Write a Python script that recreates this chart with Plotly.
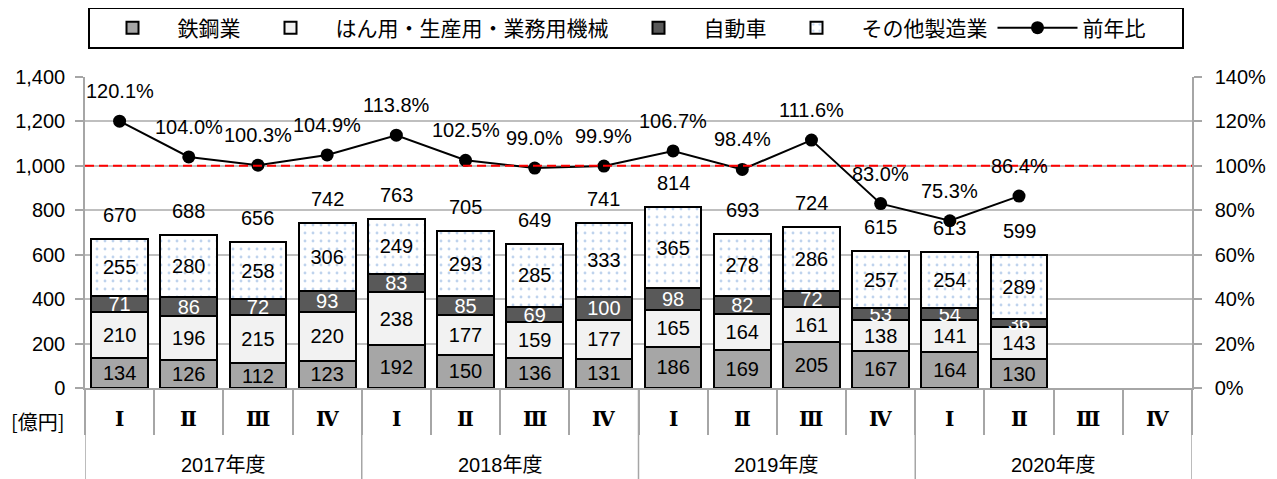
import plotly.graph_objects as go

# ---------------- data ----------------
years = ["2017年度", "2018年度", "2019年度", "2020年度"]
quarters = ["Ⅰ", "Ⅱ", "Ⅲ", "Ⅳ"]
steel = [134, 126, 112, 123, 192, 150, 136, 131, 186, 169, 205, 167, 164, 130]
machinery = [210, 196, 215, 220, 238, 177, 159, 177, 165, 164, 161, 138, 141, 143]
automobile = [71, 86, 72, 93, 83, 85, 69, 100, 98, 82, 72, 53, 54, 36]
other = [255, 280, 258, 306, 249, 293, 285, 333, 365, 278, 286, 257, 254, 289]
totals = [670, 688, 656, 742, 763, 705, 649, 741, 814, 693, 724, 615, 613, 599]
yoy = [120.1, 104.0, 100.3, 104.9, 113.8, 102.5, 99.0, 99.9, 106.7, 98.4, 111.6, 83.0, 75.3, 86.4]
reference_ratio = 1.0  # 100% line
unit_label = "[億円]"

categories = [f"{y} {q}" for y in years for q in quarters]
quarter_labels = [q for _ in years for q in quarters]
x_data = categories[:len(steel)]

NUM_FONT = "Liberation Sans, Arial, Noto Sans CJK JP"
JP_FONT = "Noto Sans CJK JP, Liberation Sans"
FS = 20

# geometry (the page body adds an 8px offset at the top-left)
OFF = 8
W, H = 1277 - OFF, 479 - OFF
ML, MR, MT, MB = 85 - OFF, 85, 77 - OFF, 91
PH = H - MT - MB
PW = W - ML - MR


def px_x(px):
    return (px - OFF - ML) / PW


def px_y(py):
    return 1 + (MT + OFF - py) / PH


fig = go.Figure()

pattern_dots = dict(shape=".", fgcolor="#7FA8DC", bgcolor="white", size=8, solidity=0.1)
series = [
    ("鉄鋼業", steel, "#A6A6A6", "black", None),
    ("はん用・生産用・業務用機械", machinery, "#F2F2F2", "black", None),
    ("自動車", automobile, "#595959", "white", None),
    ("その他製造業", other, "white", "black", pattern_dots),
]
for name, vals, color, tcolor, pat in series:
    marker = dict(color=color, line=dict(color="black", width=2))
    if pat is not None:
        marker["pattern"] = pat
    fig.add_bar(
        x=x_data, y=vals, name=name,
        text=[str(v) for v in vals],
        textposition="inside", insidetextanchor="middle", textangle=0,
        constraintext="none",
        textfont=dict(color=tcolor, size=FS, family=NUM_FONT),
        marker=marker,
        hoverinfo="skip",
    )

fig.add_scatter(
    x=x_data, y=[v / 100 for v in yoy], yaxis="y2", name="前年比",
    mode="lines+markers",
    line=dict(color="black", width=2),
    marker=dict(color="black", size=13),
    hoverinfo="skip",
)

annotations = []
# totals above bars
for c, t in zip(x_data, totals):
    annotations.append(dict(x=c, y=t, xref="x", yref="y", text=f"{t:,}", showarrow=False,
                            yshift=24, font=dict(size=FS, family=NUM_FONT, color="black")))
# yoy labels above markers
for c, v in zip(x_data, yoy):
    annotations.append(dict(x=c, y=v / 100, xref="x", yref="y2", text=f"{v:.1f}%", showarrow=False,
                            yshift=30, font=dict(size=FS, family=NUM_FONT, color="black")))
# quarter labels
for c, q in zip(categories, quarter_labels):
    annotations.append(dict(x=c, y=0, xref="x", yref="paper", text=q, showarrow=False,
                            yshift=-31, yanchor="middle",
                            font=dict(size=FS, family="DejaVu Serif", color="black", weight="bold")))
# year labels
for i, yname in enumerate(years):
    annotations.append(dict(x=i * len(quarters) + (len(quarters) - 1) / 2, y=0, xref="x", yref="paper",
                            text=yname, showarrow=False, yshift=-77, yanchor="middle",
                            font=dict(size=FS, family=NUM_FONT, color="black")))
# unit label
annotations.append(dict(x=0, y=0, xref="paper", yref="paper", text=unit_label, showarrow=False,
                        xanchor="right", xshift=-18, yshift=-33, yanchor="middle",
                        font=dict(size=FS, family=JP_FONT, color="black")))

shapes = []
# 100% reference line
shapes.append(dict(type="line", xref="paper", x0=0, x1=1, yref="y2", y0=reference_ratio, y1=reference_ratio,
                   line=dict(color="#FF0000", width=2, dash="9px,5px"), layer="above"))
# year dividers
for i in range(len(years) + 1):
    xb = i * len(quarters) - 0.5
    shapes.append(dict(type="line", xref="x", x0=xb, x1=xb, yref="paper", y0=0, y1=-MB / PH - 0.01,
                       line=dict(color="#A6A6A6", width=1.5)))
# legend frame
shapes.append(dict(type="rect", xref="paper", yref="paper",
                   x0=px_x(89), x1=px_x(1183), y0=px_y(48), y1=px_y(8),
                   line=dict(color="black", width=2), fillcolor="rgba(0,0,0,0)"))

fig.update_layout(
    width=W, height=H,
    margin=dict(l=ML, r=MR, t=MT, b=MB, autoexpand=False),
    paper_bgcolor="white", plot_bgcolor="white",
    barmode="stack", bargap=0.18,
    uniformtext=dict(minsize=FS, mode="show"),
    font=dict(family=NUM_FONT, size=FS, color="black"),
    showlegend=True,
    legend=dict(orientation="h", x=px_x(619), xanchor="center", y=px_y(28), yanchor="middle",
                traceorder="normal", font=dict(family=JP_FONT, size=21, color="black"),
                itemwidth=80, bgcolor="rgba(0,0,0,0)"),
    xaxis=dict(type="category", categoryorder="array", categoryarray=categories,
               range=[-0.5, len(categories) - 0.5], automargin=False,
               showticklabels=False, tickson="boundaries", ticks="outside", ticklen=45,
               tickcolor="#A6A6A6", tickwidth=1.5,
               showline=True, linecolor="#A6A6A6", linewidth=1.5, showgrid=False, zeroline=False),
    yaxis=dict(range=[0, 1400], dtick=200, tickformat=",", showgrid=True, gridcolor="#BFBFBF", gridwidth=1.5,
               showline=True, linecolor="#A6A6A6", linewidth=1.5, ticks="outside", ticklen=8,
               tickcolor="#A6A6A6", tickwidth=1.5, zeroline=False, ticklabelstandoff=6, automargin=False,
               tickfont=dict(size=FS, family=NUM_FONT)),
    yaxis2=dict(range=[0, 1.4], dtick=0.2, tickformat=".0%", overlaying="y", side="right", showgrid=False,
                showline=True, linecolor="#A6A6A6", linewidth=1.5, ticks="outside", ticklen=8,
                tickcolor="#A6A6A6", tickwidth=1.5, zeroline=False, ticklabelstandoff=9, automargin=False,
                tickfont=dict(size=FS, family=NUM_FONT)),
    annotations=annotations,
    shapes=shapes,
)

fig.write_html("out.html")
